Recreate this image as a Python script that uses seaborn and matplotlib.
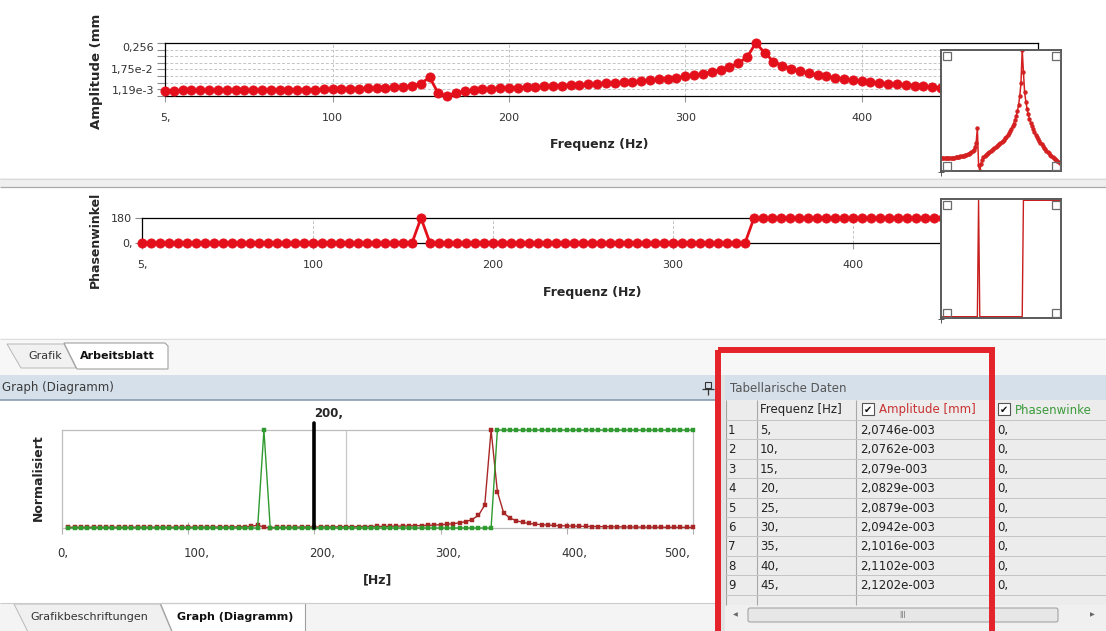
import numpy as np
import pandas as pd
import matplotlib
matplotlib.use("Agg")
import matplotlib.pyplot as plt
import matplotlib.patches as mpatches
import matplotlib.transforms as mtransforms
from matplotlib.ticker import FixedLocator, NullFormatter
import seaborn as sns

# -----------------------------
# data
# -----------------------------
freq = [5, 10, 15, 20, 25, 30, 35, 40, 45, 50,
        55, 60, 65, 70, 75, 80, 85, 90, 95, 100,
        105, 110, 115, 120, 125, 130, 135, 140, 145, 150,
        155, 160, 165, 170, 175, 180, 185, 190, 195, 200,
        205, 210, 215, 220, 225, 230, 235, 240, 245, 250,
        255, 260, 265, 270, 275, 280, 285, 290, 295, 300,
        305, 310, 315, 320, 325, 330, 335, 340, 345, 350,
        355, 360, 365, 370, 375, 380, 385, 390, 395, 400,
        405, 410, 415, 420, 425, 430, 435, 440, 445, 450,
        455, 460, 465, 470, 475, 480, 485, 490, 495, 500]

# amplitude in 1e-3 mm
amp_e3 = [2.0746, 2.0762, 2.079, 2.0829, 2.0879, 2.0942, 2.1016, 2.1102, 2.1202, 2.135,
          2.148, 2.163, 2.180, 2.198, 2.219, 2.242, 2.267, 2.296, 2.327, 2.363,
          2.403, 2.449, 2.502, 2.566, 2.644, 2.742, 2.874, 3.069, 3.401, 4.162,
          7.90, 1.55, 1.19, 1.66, 1.97, 2.18, 2.33, 2.46, 2.58, 2.69,
          2.80, 2.91, 3.02, 3.14, 3.27, 3.41, 3.55, 3.71, 3.89, 4.08,
          4.29, 4.54, 4.81, 5.12, 5.48, 5.90, 6.39, 6.98, 7.71, 8.61,
          9.78, 11.33, 13.50, 16.77, 22.20, 33.08, 60.0, 256.0, 95.0, 39.0,
          26.0, 19.0, 14.8, 12.0, 10.1, 8.7, 7.6, 6.7, 6.0, 5.4,
          4.95, 4.55, 4.20, 3.90, 3.62, 3.37, 3.14, 2.93, 2.76, 2.60,
          2.46, 2.34, 2.22, 2.12, 2.03, 1.95, 1.87, 1.80, 1.73, 1.67]

# phase angle in degrees
phase = [0, 0, 0, 0, 0, 0, 0, 0, 0, 0,
         0, 0, 0, 0, 0, 0, 0, 0, 0, 0,
         0, 0, 0, 0, 0, 0, 0, 0, 0, 0,
         0, 180, 0, 0, 0, 0, 0, 0, 0, 0,
         0, 0, 0, 0, 0, 0, 0, 0, 0, 0,
         0, 0, 0, 0, 0, 0, 0, 0, 0, 0,
         0, 0, 0, 0, 0, 0, 0, 0, 180, 180,
         180, 180, 180, 180, 180, 180, 180, 180, 180, 180,
         180, 180, 180, 180, 180, 180, 180, 180, 180, 180,
         180, 180, 180, 180, 180, 180, 180, 180, 180, 180]

amp_tick_labels = ["1,19e-3", "1,75e-2", "0,256"]
top_xticks = [5, 100, 200, 300, 400]
top_xtick_labels = ["5,", "100", "200", "300", "400"]
phase_ticks = [0, 180]
phase_tick_labels = ["0,", "180"]
bottom_xticks = [0, 100, 200, 300, 400, 500]
bottom_xtick_labels = ["0,", "100,", "200,", "300,", "400,", "500,"]
cursor_freq = 200
marker_line_freq = 225

# rows of the "Tabellarische Daten" grid
tab_index = ["1", "2", "3", "4", "5", "6", "7", "8", "9"]
tab_freq = ["5,", "10,", "15,", "20,", "25,", "30,", "35,", "40,", "45,"]
tab_amp = ["2,0746e-003", "2,0762e-003", "2,079e-003", "2,0829e-003", "2,0879e-003",
           "2,0942e-003", "2,1016e-003", "2,1102e-003", "2,1202e-003"]
tab_phase = ["0,", "0,", "0,", "0,", "0,", "0,", "0,", "0,", "0,"]

df = pd.DataFrame({"freq": freq, "amp": np.array(amp_e3) * 1e-3, "phase": phase})
df["amp_norm"] = df["amp"] / df["amp"].max()
df["phase_norm"] = df["phase"] / 180.0

W, H = 1106, 631
RED = "#e3101b"
DARKRED = "#a82626"
GREEN = "#2f9a2f"

sns.set_style("white")
plt.rcParams["font.family"] = ["DejaVu Sans"]

fig = plt.figure(figsize=(W / 100, H / 100), dpi=100)


def px_axes(x0, y0, x1, y1):
    return fig.add_axes([x0 / W, 1 - y1 / H, (x1 - x0) / W, (y1 - y0) / H])


def box(ax, x0, y0, x1, y1, fc, ec="none", lw=0):
    ax.add_patch(mpatches.Rectangle((x0, y0), x1 - x0, y1 - y0, fc=fc, ec=ec, lw=lw))


def hline(ax, y, x0, x1, color, lw=0.8):
    ax.plot([x0, x1], [y, y], color=color, lw=lw, solid_capstyle="butt")


def vline(ax, x, y0, y1, color, lw=0.8):
    ax.plot([x, x], [y0, y1], color=color, lw=lw, solid_capstyle="butt")


# -----------------------------
# window chrome (background layer)
# -----------------------------
ui = px_axes(0, 0, W, H)
ui.set_xlim(0, W)
ui.set_ylim(H, 0)
ui.axis("off")

box(ui, 0, 0, W, H, "white")
box(ui, 0, 178, W, 187, "#efefef")
hline(ui, 178.5, 0, W, "#d9d9d9", 0.7)
hline(ui, 187, 0, W, "#a9a9a9", 0.9)

# upper tab strip
box(ui, 0, 338, W, 375, "#f7f7f7")
hline(ui, 338.5, 0, W, "#dddddd", 0.7)
ui.add_patch(mpatches.Polygon([(7, 344), (64, 344), (76, 368), (21, 368)],
                              closed=True, fc="#f1f1f1", ec="#b8b8b8", lw=0.7))
ui.add_patch(mpatches.Polygon([(64, 343), (165, 343), (168, 346), (168, 369), (77, 369)],
                              closed=True, fc="white", ec="#a0a0a0", lw=0.8))
ui.text(28, 356, "Grafik", fontsize=8, color="#333333", va="center")
ui.text(80, 356, "Arbeitsblatt", fontsize=8, weight="bold", color="#111111", va="center")

# pane headers
box(ui, 0, 375, 721, 400, "#d6e0eb")
hline(ui, 400, 0, 721, "#8a9bb0", 1.2)
ui.text(2, 388, "Graph (Diagramm)", fontsize=8.5, color="#3a3a3a", va="center")
box(ui, 721, 375, 725, H, "#e4e4e4")
box(ui, 725, 375, W, 400, "#d6e0eb")
ui.text(730, 388, "Tabellarische Daten", fontsize=8.5, color="#555555", va="center")
# pin icon
box(ui, 705, 382, 711, 388, "none", "#333333", 0.8)
hline(ui, 388.5, 702, 714, "#333333", 0.9)
vline(ui, 708, 388.5, 395, "#333333", 0.9)

# lower tab strip
box(ui, 0, 603, 721, H, "#f4f4f4")
hline(ui, 603, 0, 721, "#cccccc", 0.8)
ui.add_patch(mpatches.Polygon([(14, 604), (160, 604), (172, 632), (28, 632)],
                              closed=True, fc="#f0f0f0", ec="#b8b8b8", lw=0.7))
ui.add_patch(mpatches.Polygon([(160, 603), (305, 603), (305, 632), (172, 632)],
                              closed=True, fc="white", ec="#a0a0a0", lw=0.8))
ui.text(30, 617, "Grafikbeschriftungen", fontsize=8, color="#333333", va="center")
ui.text(177, 617, "Graph (Diagramm)", fontsize=8, weight="bold", color="#111111", va="center")

# table
row_h = 19.4
box(ui, 725, 400, W, 605, "#ececec")
vline(ui, 725.5, 400, 605, "#a0a0a0")
for xc in [757, 856, 993]:
    vline(ui, xc, 400, 605, "#a8a8a8")
for k in range(10):
    hline(ui, 420 + k * row_h, 725, W, "#c4c4c4", 0.7)
ui.text(760, 410, "Frequenz [Hz]", fontsize=8.5, color="#222222", va="center")
for cx, label, col in [(862, "Amplitude [mm]", "#c83232"), (998, "Phasenwinke", "#3a9a3a")]:
    box(ui, cx, 403, cx + 12, 415, "white", "#555555", 0.8)
    ui.text(cx + 6, 409.5, "✔", fontsize=7, ha="center", va="center", color="#111111")
    ui.text(cx + 17, 410, label, fontsize=8.5, color=col, va="center")
for i in range(len(tab_index)):
    yc = 430.5 + i * row_h
    ui.text(728, yc, tab_index[i], fontsize=8.5, color="#222222", va="center")
    ui.text(760, yc, tab_freq[i], fontsize=8.5, color="#222222", va="center")
    ui.text(860, yc, tab_amp[i], fontsize=8.5, color="#222222", va="center")
    ui.text(997, yc, tab_phase[i], fontsize=8.5, color="#222222", va="center")

# scrollbar
box(ui, 725, 605, W, H, "#f0f0f0")
ui.text(735, 615, "◀", fontsize=4.5, ha="center", va="center", color="#666666")
ui.text(1092, 615, "▶", fontsize=4.5, ha="center", va="center", color="#666666")
ui.add_patch(mpatches.FancyBboxPatch((748, 608), 310, 14, boxstyle="round,pad=0,rounding_size=2",
                                     fc="#e7e7e7", ec="#9a9a9a", lw=0.7))
ui.text(903, 615, "III", fontsize=5.5, ha="center", va="center", color="#777777")

# -----------------------------
# amplitude view
# -----------------------------
ax1 = px_axes(165, 43, 1038, 96)
ax1.set_facecolor("white")
sns.lineplot(data=df, x="freq", y="amp", ax=ax1, color=RED, lw=2, marker="o", ms=6.6,
             mec=RED, mew=0.6, clip_on=False, zorder=5)
ax1.set_yscale("log")
amin, amax = df["amp"].min(), df["amp"].max()
ax1.set_xlim(5, 500)
ax1.set_ylim(amin, amax)
levels = [amin * (amax / amin) ** (k / 8) for k in range(9)]
ax1.yaxis.set_major_locator(FixedLocator([levels[0], levels[4], levels[8]]))
ax1.yaxis.set_minor_locator(FixedLocator(levels[1:8]))
ax1.yaxis.set_minor_formatter(NullFormatter())
ax1.set_yticklabels(amp_tick_labels)
ylabs = ax1.get_yticklabels()
ylabs[0].set_va("bottom")
ylabs[2].set_va("top")
ax1.set_xticks(top_xticks, top_xtick_labels)
ax1.grid(True, axis="y", which="both", ls=(0, (3, 2)), color="#c4c4c4", lw=0.7)
ax1.grid(True, axis="x", which="major", ls=(0, (3, 2)), color="#c4c4c4", lw=0.7)
ax1.tick_params(axis="y", which="both", left=True, length=6, width=0.8, color="#8c8c8c",
                labelsize=8, labelcolor="#333333", pad=2)
ax1.tick_params(axis="x", bottom=True, length=4, width=0.8, color="#9a9a9a",
                labelsize=8, labelcolor="#333333", pad=8)
for s in ax1.spines.values():
    s.set_color("black")
    s.set_linewidth(0.9)
ax1.set_xlabel("Frequenz (Hz)", fontsize=9, fontweight="bold")
ax1.xaxis.set_label_coords(0.497, -0.92)
ax1.xaxis.label.set_va("center")
ax1.set_ylabel("Amplitude (mm", fontsize=9.5, fontweight="bold")
ax1.yaxis.set_label_coords(-0.079, 0.47)
ax1.yaxis.label.set_va("center")

# -----------------------------
# phase view
# -----------------------------
ax2 = px_axes(142, 218, 1033, 243)
ax2.set_facecolor("white")
sns.lineplot(data=df, x="freq", y="phase", ax=ax2, color=RED, lw=2, marker="o", ms=6.6,
             mec=RED, mew=0.6, clip_on=False, zorder=5)
ax2.set_xlim(5, 500)
ax2.set_ylim(0, 180)
ax2.set_yticks(phase_ticks, phase_tick_labels)
ax2.set_xticks(top_xticks, top_xtick_labels)
ax2.grid(True, axis="x", which="major", ls=(0, (3, 2)), color="#c4c4c4", lw=0.7)
ax2.tick_params(axis="y", left=True, length=5, width=0.8, color="#8c8c8c",
                labelsize=8, labelcolor="#333333", pad=2)
ax2.tick_params(axis="x", bottom=True, length=4, width=0.8, color="#9a9a9a",
                labelsize=8, labelcolor="#333333", pad=8)
for s in ax2.spines.values():
    s.set_color("black")
    s.set_linewidth(0.9)
ax2.set_xlabel("Frequenz (Hz)", fontsize=9, fontweight="bold")
ax2.xaxis.set_label_coords(0.505, -2.0)
ax2.xaxis.label.set_va("center")
ax2.set_ylabel("Phasenwinkel", fontsize=9, fontweight="bold")
ax2.yaxis.set_label_coords(-0.0527, 0.12)
ax2.yaxis.label.set_va("center")

# -----------------------------
# overview insets
# -----------------------------
axi1 = px_axes(941, 50, 1061, 171)
axi1.set_facecolor("white")
sns.lineplot(data=df, x="freq", y="amp", ax=axi1, color="#d42020", lw=1.1, marker="o", ms=2.8,
             mec="#d42020", mew=0.3)
axi1.set_yscale("log")
axi1.set_xlim(5, 500)
axi1.set_ylim(amin, amax)

axi2 = px_axes(941, 199, 1061, 318)
axi2.set_facecolor("white")
sns.lineplot(data=df, x="freq", y="phase", ax=axi2, color="#c81e1e", lw=1)
axi2.set_xlim(5, 500)
axi2.set_ylim(-2, 182)

for ax in (axi1, axi2):
    ax.set_xticks([])
    ax.set_yticks([])
    ax.minorticks_off()
    ax.set_xlabel("")
    ax.set_ylabel("")
    for s in ax.spines.values():
        s.set_color("#5a5a5a")
        s.set_linewidth(1.4)

# -----------------------------
# normalised graph (bottom)
# -----------------------------
ax3 = px_axes(62, 430, 693, 528)
ax3.set_facecolor("white")
sns.lineplot(data=df, x="freq", y="amp_norm", ax=ax3, color=DARKRED, lw=1, marker="s", ms=2.8,
             mec=DARKRED, mew=0.3, clip_on=False, zorder=3)
sns.lineplot(data=df, x="freq", y="phase_norm", ax=ax3, color=GREEN, lw=1, marker="s", ms=2.8,
             mec=GREEN, mew=0.3, clip_on=False, zorder=4)
ax3.set_xlim(0, 500)
ax3.set_ylim(0, 1)
ax3.set_yticks([])
ax3.set_xticks(bottom_xticks, bottom_xtick_labels)
ax3.tick_params(axis="x", bottom=True, direction="inout", length=8, width=0.8, color="#b0b0b0",
                labelsize=8.5, labelcolor="#333333", pad=10)
xlabs = ax3.get_xticklabels()
for lab in xlabs[:-1]:
    lab.set_ha("left")
    lab.set_transform(lab.get_transform() + mtransforms.ScaledTranslation(-0.05, 0, fig.dpi_scale_trans))
xlabs[-1].set_ha("right")
xlabs[-1].set_transform(xlabs[-1].get_transform() + mtransforms.ScaledTranslation(-0.03, 0, fig.dpi_scale_trans))
for s in ax3.spines.values():
    s.set_color("#bdbdbd")
    s.set_linewidth(0.9)
ax3.axvline(marker_line_freq, color="#c8c8c8", lw=0.9, zorder=1)
ax3.axvline(cursor_freq, ymin=0, ymax=1.07, color="black", lw=2.6, clip_on=False, zorder=6)
ax3.text(cursor_freq, 1.17, "200,", transform=ax3.get_xaxis_transform(), fontsize=8.5,
         fontweight="bold", ha="left", va="center")
ax3.set_xlabel("[Hz]", fontsize=9, fontweight="bold")
ax3.xaxis.set_label_coords(0.5, -0.53)
ax3.xaxis.label.set_va("center")
ax3.set_ylabel("Normalisiert", fontsize=9, fontweight="bold")
ax3.yaxis.set_label_coords(-0.038, 0.51)
ax3.yaxis.label.set_va("center")

# -----------------------------
# overlay: inset handles and red highlight frame
# -----------------------------
ov = px_axes(0, 0, W, H)
ov.set_xlim(0, W)
ov.set_ylim(H, 0)
ov.axis("off")
for (bx0, by0, bx1, by1) in [(941, 50, 1061, 171), (941, 199, 1061, 318)]:
    for sx, sy in [(bx0 + 1.5, by0 + 1.5), (bx1 - 9.5, by0 + 1.5),
                   (bx0 + 1.5, by1 - 9.5), (bx1 - 9.5, by1 - 9.5)]:
        box(ov, sx, sy, sx + 8, sy + 8, "none", "#6a6a6a", 0.9)
    hline(ov, by1 + 1, bx0 - 3, bx0 + 3, "#555555", 0.7)
    vline(ov, bx0, by1 - 2, by1 + 5, "#555555", 0.7)
ov.add_patch(mpatches.Rectangle((718, 350), 274, 300, fill=False, ec="#e5232b", lw=4.3))

fig.savefig("out.png", dpi=100)
